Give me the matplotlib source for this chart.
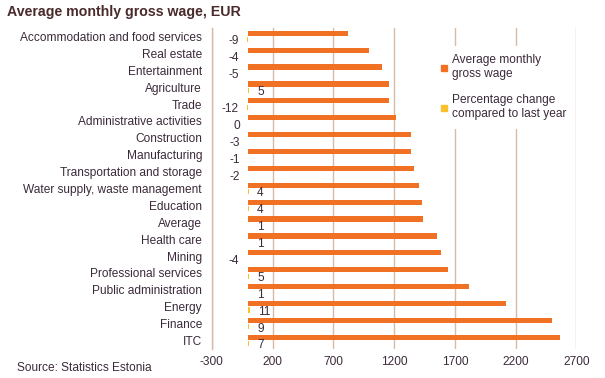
import numpy as np
import matplotlib
matplotlib.use("Agg")
import matplotlib.pyplot as plt
from matplotlib.lines import Line2D

plt.rcParams['font.family'] = ['Liberation Sans', 'DejaVu Sans']

# average monthly gross wage by sector, EUR, and change vs last year (%)
categories = ["Accommodation and food services", "Real estate", "Entertainment",
              "Agriculture", "Trade", "Administrative activities", "Construction",
              "Manufacturing", "Transportation and storage",
              "Water supply, waste management", "Education", "Average",
              "Health care", "Mining", "Professional services",
              "Public administration", "Energy", "Finance", "ITC"]
wage = [818, 994, 1101, 1159, 1159, 1216, 1340, 1340, 1365, 1406,
        1430, 1438, 1554, 1587, 1645, 1818, 2123, 2501, 2566]
change = [-9, -4, -5, 5, -12, 0, -3, -1, -2, 4, 4, 1, 1, -4, 5, 1, 11, 9, 7]
xticks = [-300, 200, 700, 1200, 1700, 2200, 2700]

ORANGE = '#f07124'
YELLOW = '#fbc02d'
GRID = '#d6bba8'
TXT = '#3b2a3a'
FS = 8.6

fig = plt.figure(figsize=(6.05, 3.78), dpi=100)
ax = fig.add_axes([0.35, 0.0767, 0.6026, 0.8492])

y = np.arange(len(categories))
off = 0.19
h = 0.31
ax.barh(y - off, wage, height=h, color=ORANGE, zorder=3)
ax.barh(y + off, change, height=h, color=YELLOW, zorder=3)

for yi, v in zip(y, change):
    if v > 0:
        ax.annotate(str(v), (v, yi + off + 0.1), xytext=(6, 0), textcoords='offset points',
                    ha='left', va='center', fontsize=FS, color=TXT)
    else:
        ax.annotate(str(v), (v, yi + off + 0.1), xytext=(-6, 0), textcoords='offset points',
                    ha='right', va='center', fontsize=FS, color=TXT)

ax.set_xlim(-300, 2700)
ax.set_ylim(len(categories) - 0.5, -0.5)
ax.set_xticks(xticks)
ax.set_xticklabels([str(t) for t in xticks], fontsize=FS, color=TXT)
ax.set_yticks(y)
ax.set_yticklabels(categories, fontsize=FS, color=TXT)
ax.tick_params(axis='both', length=0)
ax.tick_params(axis='y', pad=7)
ax.tick_params(axis='x', pad=5)
ax.xaxis.grid(True, color=GRID, linewidth=1, zorder=0)
ax.set_axisbelow(True)
for s in ['top', 'right', 'bottom']:
    ax.spines[s].set_visible(False)
ax.spines['left'].set_color(GRID)
ax.spines['left'].set_linewidth(1)

handles = [Line2D([], [], marker='s', linestyle='none', color=ORANGE, markersize=5),
           Line2D([], [], marker='s', linestyle='none', color=YELLOW, markersize=5)]
leg = ax.legend(handles, ['Average monthly\ngross wage', 'Percentage change\ncompared to last year'],
                loc='upper left', bbox_to_anchor=(432 / 605, 1 - 46 / 378),
                bbox_transform=fig.transFigure, frameon=True, fontsize=FS,
                handlelength=0.6, handletextpad=0.4, labelspacing=1.2,
                borderpad=0.7, borderaxespad=0)
leg.get_frame().set_facecolor('white')
leg.get_frame().set_edgecolor('none')
leg.get_frame().set_alpha(1)
leg.set_zorder(5)
for t in leg.get_texts():
    t.set_color(TXT)

fig.text(7 / 605, 1 - 12 / 378, 'Average monthly gross wage, EUR', fontsize=10.2,
         fontweight='bold', color='#4a2a2a', ha='left', va='center')
fig.text(17 / 605, 1 - 368 / 378, 'Source: Statistics Estonia', fontsize=FS,
         color=TXT, ha='left', va='center')

fig.savefig('out.png', dpi=100)
